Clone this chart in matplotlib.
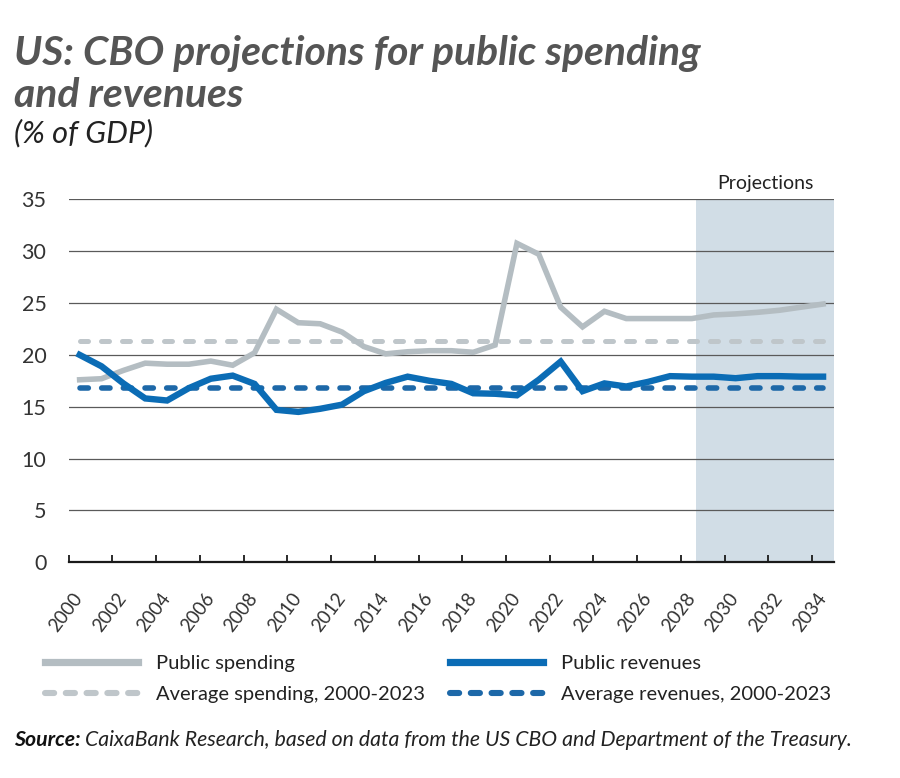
import matplotlib
matplotlib.use("Agg")
import matplotlib.pyplot as plt
import matplotlib.transforms as mtransforms
from matplotlib.lines import Line2D
import numpy as np

years = list(range(2000, 2035))
spending = [17.6, 17.7, 18.5, 19.2, 19.1, 19.1, 19.4, 19.0, 20.2, 24.4,
            23.1, 23.0, 22.2, 20.8, 20.1, 20.3, 20.4, 20.4, 20.25, 20.95,
            30.75, 29.7, 24.6, 22.7, 24.2, 23.5, 23.5, 23.5, 23.5, 23.85,
            23.95, 24.1, 24.3, 24.6, 24.9]
revenues = [20.0, 18.9, 17.25, 15.8, 15.6, 16.8, 17.7, 18.0, 17.2, 14.7,
            14.5, 14.8, 15.2, 16.5, 17.3, 17.9, 17.5, 17.2, 16.3, 16.25,
            16.1, 17.6, 19.35, 16.5, 17.25, 16.95, 17.4, 17.95, 17.9, 17.9,
            17.75, 17.95, 17.95, 17.9, 17.9]
avg_spending = 21.35
avg_revenues = 16.8
tick_years = list(range(2000, 2035, 2))
y_ticks = [0, 5, 10, 15, 20, 25, 30, 35]
labels = ["Public spending", "Average spending, 2000-2023",
          "Public revenues", "Average revenues, 2000-2023"]

FONT = ["Lato", "DejaVu Sans"]
plt.rcParams["font.family"] = FONT

W, H = 900, 778
fig = plt.figure(figsize=(W / 100, H / 100), dpi=100)

def fx(px):
    return px / W

def fy(py):
    return 1 - py / H

def fit_width(txt, target_px):
    fig.canvas.draw()
    w = txt.get_window_extent().width
    txt.set_fontsize(txt.get_fontsize() * target_px / w)

ax = fig.add_axes([fx(68.7), fy(562.3), fx(834) - fx(68.7), fy(199.3) - fy(562.3)])

GRAY = "#b4bdc2"
GRAY_D = "#bfc6ca"
BLUE = "#0b6cb5"
BLUE_D = "#1d68a8"
SHADE = "#d1dde6"

x = np.arange(len(years))
ax.set_xlim(-0.5, len(years) - 0.5)
ax.set_ylim(0, 35)

# projection shading
ax.axvspan(28.2, len(years) - 0.5, color=SHADE, zorder=0, lw=0)
ax.text((28.2 + len(years) - 0.5) / 2, 35.75, "Projections", ha="center", va="bottom",
        fontsize=14, color="#222222")

# gridlines
for yv in y_ticks[1:]:
    ax.axhline(yv, color="#5a5a5a", lw=0.9, zorder=1)

ax.plot(x, [avg_spending] * len(x), color=GRAY_D, lw=3.6, dashes=(1.6, 2.6),
        dash_capstyle="round", zorder=3)
ax.plot(x, [avg_revenues] * len(x), color=BLUE_D, lw=4.0, dashes=(1.5, 2.4),
        dash_capstyle="round", zorder=3)
ax.plot(x, spending, color=GRAY, lw=4.0, solid_joinstyle="miter", zorder=4)
ax.plot(x, revenues, color=BLUE, lw=4.6, solid_joinstyle="miter", zorder=5)

for s in ["top", "right", "left"]:
    ax.spines[s].set_visible(False)
ax.spines["bottom"].set_color("#1a1a1a")
ax.spines["bottom"].set_linewidth(1.6)
ax.spines["bottom"].set_zorder(6)

ax.set_yticks(y_ticks)
ax.set_yticklabels([str(v) for v in y_ticks])
ax.tick_params(axis="y", length=0, pad=16, labelsize=15.5, labelcolor="#333333")

tick_idx = [years.index(t) for t in tick_years]
ax.set_xticks(tick_idx)
ax.set_xticklabels([str(t) for t in tick_years], rotation=53, ha="right")
ax.tick_params(axis="x", which="major", length=0, pad=20, labelsize=13.5, labelcolor="#333333")
ax.set_xticks([i - 0.5 for i in tick_idx], minor=True)
ax.tick_params(axis="x", which="minor", direction="in", length=5, width=1.3, color="#1a1a1a")
off = mtransforms.ScaledTranslation(0.065, 0, fig.dpi_scale_trans)
for lab in ax.get_xticklabels():
    lab.set_transform(lab.get_transform() + off)

# title
t_a = fig.text(fx(14), fy(65), "US: CBO projections for public spending", fontsize=22,
               weight="bold", style="italic", color="#555555", va="baseline")
fit_width(t_a, 687)
fig.text(fx(14), fy(107), "and revenues", fontsize=t_a.get_fontsize(),
         weight="bold", style="italic", color="#555555", va="baseline")
sub = fig.text(fx(14), fy(142), "(% of GDP)", fontsize=21, style="italic", color="#222222",
               va="baseline")
fit_width(sub, 139)

# legends
h_sp = Line2D([], [], color=GRAY, lw=5.2)
h_asp = Line2D([], [], color=GRAY_D, lw=4.4, dashes=(1.5, 1.9), dash_capstyle="round")
h_rv = Line2D([], [], color=BLUE, lw=5.2)
h_arv = Line2D([], [], color=BLUE_D, lw=4.4, dashes=(1.5, 1.9), dash_capstyle="round")
common = dict(frameon=False, fontsize=14.5, handlelength=4.6, handletextpad=0.9,
              labelspacing=0.7, borderpad=0, borderaxespad=0, loc="upper left",
              labelcolor="#222222")
fig.legend([h_sp, h_asp], labels[:2], bbox_to_anchor=(fx(45), fy(655)), **common)
fig.legend([h_rv, h_arv], labels[2:], bbox_to_anchor=(fx(450), fy(655)), **common)

# source
t1 = fig.text(fx(14), fy(746), "Source:", fontsize=15.3, weight="bold", style="italic",
              color="#111111", va="baseline")
fig.canvas.draw()
bb = t1.get_window_extent()
fig.text((bb.x1 + 4) / W, fy(746),
         "CaixaBank Research, based on data from the US CBO and Department of the Treasury.",
         fontsize=15.3, style="italic", color="#222222", va="baseline")

fig.savefig("out.png", dpi=100)
